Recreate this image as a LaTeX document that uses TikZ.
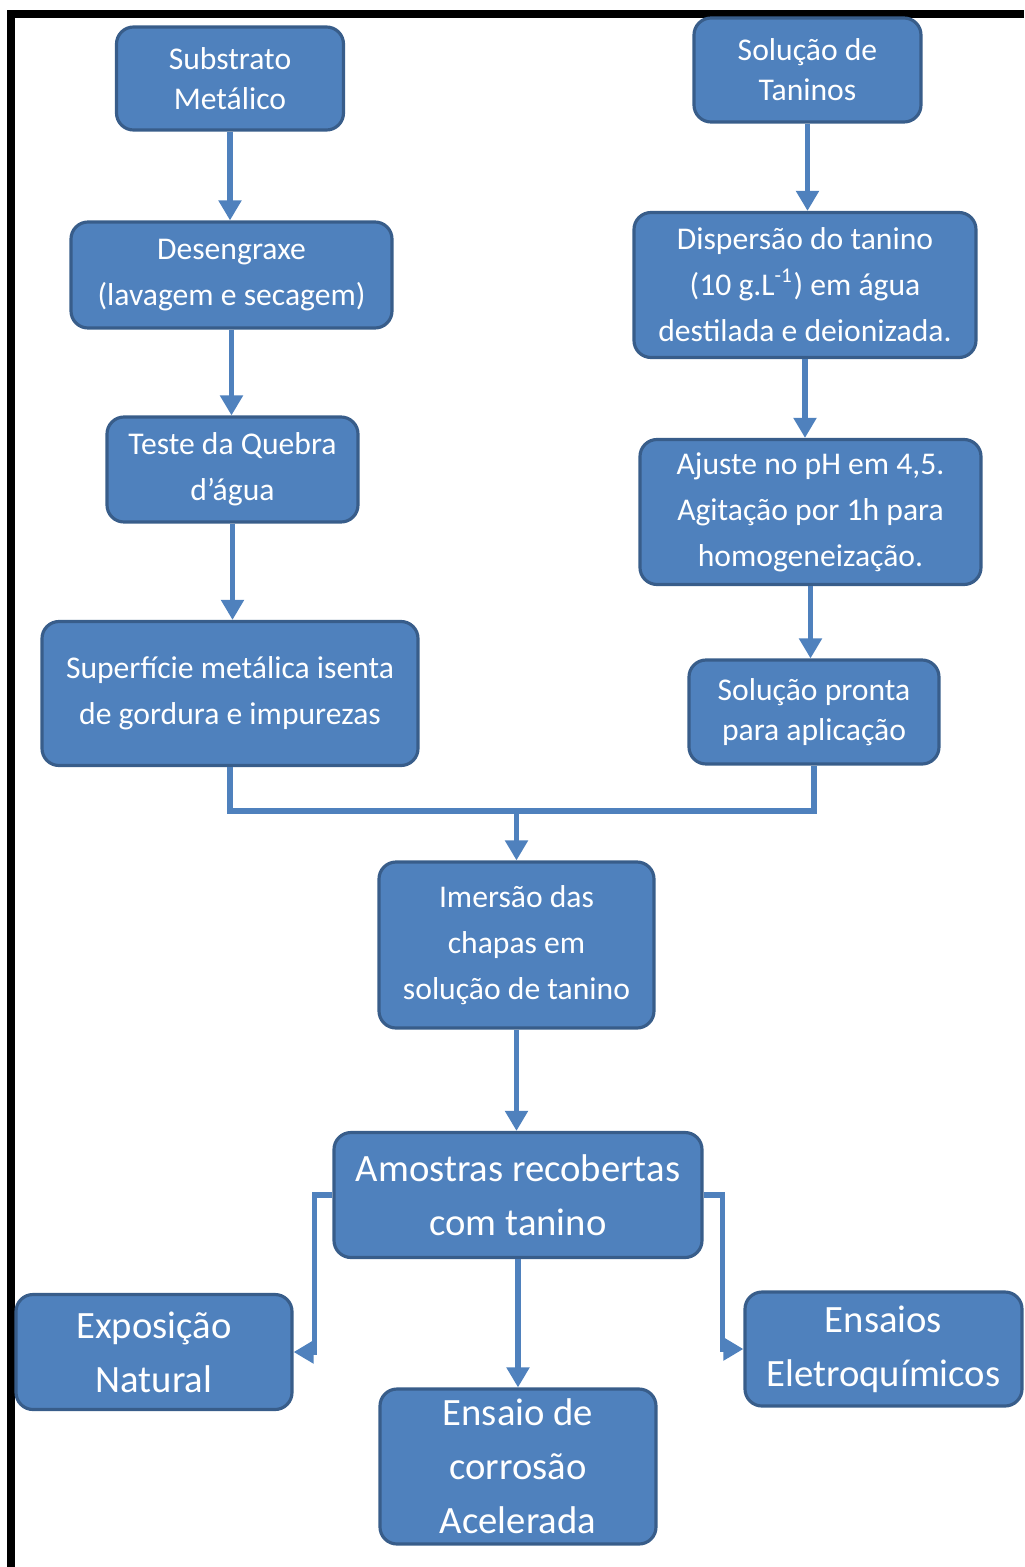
\documentclass[tikz,border=0pt]{standalone}
\usepackage{fontspec}
\setmainfont{Carlito}
\usetikzlibrary{arrows.meta}
\definecolor{boxfill}{HTML}{4F81BD}
\definecolor{boxline}{HTML}{385D8A}
\begin{document}
\begin{tikzpicture}[
  base/.style={draw=boxline, line width=0.9pt, fill=boxfill, rounded corners=0.17cm,
    text=white, align=center, inner sep=0pt},
  box/.style={base, font=\fontsize{9}{13.1}\selectfont},
  tightbox/.style={base, font=\fontsize{9}{11.4}\selectfont},
  bigbox/.style={base, font=\fontsize{11}{15.4}\selectfont},
  arr/.style={draw=boxfill, line width=1.45pt, -{Triangle[width=0.22cm,length=0.2cm]}}
]
\useasboundingbox (0,0) rectangle (10.24,-15.67);
% Frame
\fill[black] (0.07,-0.10) rectangle (10.24,-0.18);
\fill[black] (0.07,-0.10) rectangle (0.15,-15.67);
% Left column
\node[tightbox, minimum width=2.27cm, minimum height=1.03cm] (sub) at (2.30,-0.785) {Substrato\\Metálico};
\node[box, minimum width=3.21cm, minimum height=1.06cm] (deseng) at (2.315,-2.75) {Desengraxe\\(lavagem e secagem)};
\node[box, minimum width=2.51cm, minimum height=1.05cm] (teste) at (2.325,-4.695) {Teste da Quebra\\d’água};
\node[box, minimum width=3.76cm, minimum height=1.44cm] (sup) at (2.30,-6.935) {Superfície metálica isenta\\de gordura e impurezas};
% Right column
\node[tightbox, minimum width=2.27cm, minimum height=1.04cm] (sol) at (8.075,-0.70) {Solução de\\Taninos};
\node[box, minimum width=3.42cm, minimum height=1.45cm] (disp) at (8.05,-2.85) {Dispersão do tanino\\(10 g.L\textsuperscript{-1}) em água\\destilada e deionizada.};
\node[box, minimum width=3.41cm, minimum height=1.45cm] (ajus) at (8.105,-5.12) {Ajuste no pH em 4,5.\\Agitação por 1h para\\homogeneização.};
\node[tightbox, minimum width=2.50cm, minimum height=1.04cm] (pronta) at (8.14,-7.12) {Solução pronta\\para aplicação};
% Center
\node[box, minimum width=2.75cm, minimum height=1.66cm] (imer) at (5.165,-9.45) {Imersão das\\chapas em\\solução de tanino};
\node[bigbox, minimum width=3.68cm, minimum height=1.25cm] (amos) at (5.18,-11.95) {Amostras recobertas\\com tanino};
% Tests
\node[bigbox, minimum width=2.76cm, minimum height=1.15cm] (expo) at (1.54,-13.52) {Exposição\\Natural};
\node[bigbox, minimum width=2.76cm, minimum height=1.55cm] (ensaio) at (5.18,-14.665) {Ensaio de\\corrosão\\Acelerada};
\node[bigbox, minimum width=2.77cm, minimum height=1.14cm] (eletro) at (8.835,-13.49) {Ensaios\\Eletroquímicos};
% Arrows
\draw[arr] (sub.south) -- (sub.south |- deseng.north);
\draw[arr] (deseng.south) -- (deseng.south |- teste.north);
\draw[arr] (teste.south) -- (teste.south |- sup.north);
\draw[arr] (sol.south) -- (sol.south |- disp.north);
\draw[arr] (disp.south) -- (disp.south |- ajus.north);
\draw[arr] (ajus.south) -- (ajus.south |- pronta.north);
% Join
\coordinate (join) at (5.165,-8.11);
\draw[draw=boxfill, line width=1.45pt] (sup.south) |- (join) -| (pronta.south);
\draw[arr] (join) -- (imer.north);
\draw[arr] (imer.south) -- (imer.south |- amos.north);
% Split
\draw[arr] (amos.west) -- ++(-0.18,0) |- (expo.east);
\draw[arr] (amos.south) -- (amos.south |- ensaio.north);
\draw[arr] (amos.east) -- ++(0.19,0) |- (eletro.west);
\end{tikzpicture}
\end{document}
